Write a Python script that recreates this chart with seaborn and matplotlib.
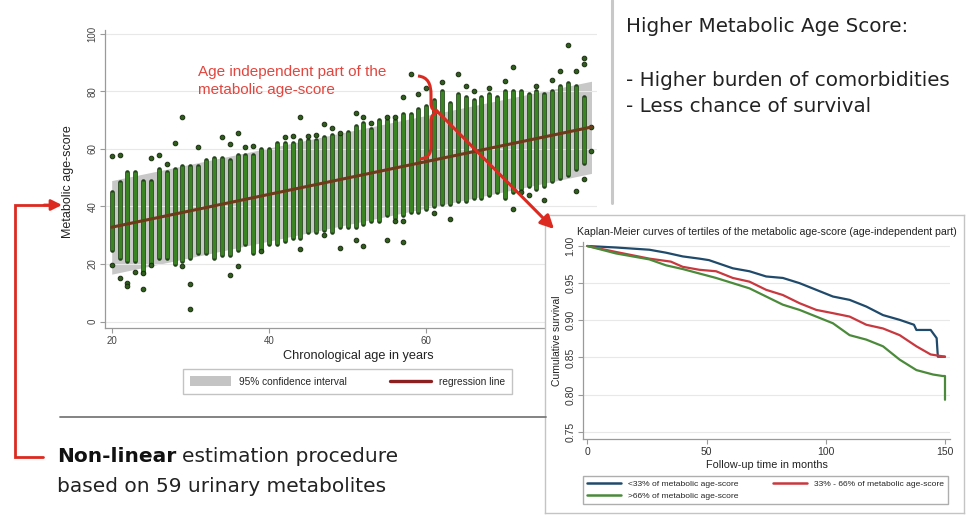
import numpy as np
import pandas as pd
import matplotlib
matplotlib.use("Agg")
import matplotlib.pyplot as plt
import seaborn as sns
from matplotlib.path import Path
from matplotlib.patches import PathPatch, Patch
from matplotlib.lines import Line2D

# ------------------------------------------
# data: metabolic age-score scatter
# ------------------------------------------
col_age = list(range(20, 81))
col_hi = [45, 48.6, 52, 52, 49, 49, 53, 52, 53, 54,
          54, 54, 56, 57, 57, 56, 58, 58, 58, 60,
          60, 62, 62, 62, 63, 63, 63, 64, 65, 65,
          66, 68, 69, 67, 70, 70, 70, 72, 72, 74,
          75, 77, 80, 76, 79, 78, 77, 78, 79, 78,
          80, 80, 80, 79, 80, 79, 80, 82, 83, 82,
          78]
col_lo = [25, 22, 21, 21, 17, 20, 22, 22, 20, 21,
          22, 24, 24, 22, 23, 23, 25, 27, 24, 25,
          27, 27, 28, 29, 29, 31, 31, 32, 31, 33,
          33, 33, 34, 35, 35, 37, 36, 37, 38, 38,
          39, 40, 41, 41, 42, 42, 43, 43, 44, 45,
          43, 45, 46, 47, 46, 47, 49, 50, 51, 53,
          55]
out_age = [20, 20, 21, 21, 22, 22, 23, 24, 24, 25, 25, 26, 27, 28, 29, 29, 30, 30,
           31, 34, 35, 36, 35, 36, 37, 38, 39, 42, 43, 44, 45, 44, 46, 47, 48, 49,
           47, 49, 51, 52, 51, 52, 53, 55, 57, 57, 58, 59, 55, 56, 56, 57, 61, 62,
           63, 64, 71, 70, 71, 75, 77, 78, 79, 80, 80, 79, 80, 81, 81, 74, 76, 66,
           68, 72, 73, 60, 65]
out_score = [57.5, 19.8, 57.8, 15.0, 13.5, 12.5, 17.4, 16.9, 11.5, 19.8, 57.0, 58.0,
             54.7, 62.0, 71.0, 19.2, 13.1, 4.3, 60.8, 64.0, 61.6, 65.7, 16.3, 19.2,
             60.8, 61.0, 24.4, 64.0, 64.5, 71.0, 64.5, 25.2, 64.8, 68.6, 67.4, 65.7,
             30.2, 25.6, 28.5, 26.2, 72.4, 71.0, 69.0, 28.5, 27.7, 77.9, 86.0, 79.0,
             71.0, 71.0, 35.0, 35.0, 37.8, 83.4, 35.5, 86.0, 88.4, 83.7, 39.0, 42.4,
             87.2, 96.2, 87.2, 91.5, 89.5, 45.3, 49.4, 59.3, 67.6, 82.0, 84.0, 80.0,
             81.0, 45.0, 44.0, 81.0, 82.0]
reg_age = [20, 81]
reg_fit = [32.8, 67.6]
band_lo = [16.5, 51.5]
band_hi = [49.0, 83.5]

# ------------------------------------------
# data: Kaplan-Meier curves per tertile
# ------------------------------------------
blue_t = [0, 12, 26, 33, 40, 47, 51, 61, 68, 75, 82, 89, 96, 103, 110, 117, 124,
          131, 137, 138, 144, 146.5, 147, 150]
blue_s = [1.0, 0.998, 0.995, 0.991, 0.986, 0.983, 0.981, 0.970, 0.966, 0.959, 0.957,
          0.950, 0.941, 0.932, 0.9275, 0.9185, 0.907, 0.9006, 0.894, 0.887, 0.887,
          0.876, 0.851, 0.851]
red_t = [0, 12, 26, 35, 40, 47, 54, 61, 68, 75, 82, 89, 96, 103, 110, 117, 124,
         131, 138, 144, 150]
red_s = [1.0, 0.992, 0.983, 0.979, 0.972, 0.968, 0.966, 0.957, 0.952, 0.941, 0.934,
         0.923, 0.914, 0.9096, 0.905, 0.894, 0.889, 0.880, 0.865, 0.854, 0.851]
green_t = [0, 12, 19, 26, 33, 40, 47, 54, 61, 68, 75, 82, 89, 96, 103, 110, 117,
           124, 131, 138, 145, 149, 150, 150]
green_s = [1.0, 0.990, 0.986, 0.982, 0.974, 0.969, 0.963, 0.957, 0.950, 0.943,
           0.932, 0.921, 0.914, 0.905, 0.896, 0.880, 0.874, 0.865, 0.847, 0.833,
           0.827, 0.825, 0.825, 0.793]
km_labels = ["<33% of metabolic age-score", "33% - 66% of metabolic age-score",
             ">66% of metabolic age-score"]

# ------------------------------------------
# style / layout helpers (pixel based)
# ------------------------------------------
sns.set_style("white")
plt.rcParams['font.family'] = ['Liberation Sans', 'DejaVu Sans']

W, H = 968, 517
RED = '#dc2a20'
GREEN = '#3b8424'
DARK = '#22421a'
BIG = ['DejaVu Sans']


def box(left, top, right, bottom):
    return [left / W, 1 - bottom / H, (right - left) / W, (bottom - top) / H]


fig = plt.figure(figsize=(W / 100, H / 100), dpi=100)

# ------------------------------------------
# scatter panel
# ------------------------------------------
ax = fig.add_axes(box(105, 30, 597, 328))
ax.set_zorder(1)
ax.fill_between(reg_age, band_lo, band_hi, color='#c8c8c8', lw=0, zorder=0.5)
ax.vlines(col_age, col_lo, col_hi, color=DARK, lw=3.4, capstyle='round', zorder=2)
ax.vlines(col_age, col_lo, col_hi, color=GREEN, lw=2.3, zorder=2.1)
sns.scatterplot(x=out_age, y=out_score, ax=ax, s=11, color='#2f5e1d',
                edgecolor='#1a2e10', linewidth=0.7, zorder=3, legend=False)
sns.lineplot(x=reg_age, y=reg_fit, ax=ax, color='#6e3a1a', lw=2.2, zorder=4)

ax.set_xlim(19.15, 81.7)
ax.set_ylim(-2.2, 101.3)
ax.set_xticks([20, 40, 60, 80])
ax.set_yticks([0, 20, 40, 60, 80, 100])
ax.yaxis.grid(True, color='#e8e8e8', lw=0.8)
ax.set_axisbelow(True)
for s in ['top', 'right']:
    ax.spines[s].set_visible(False)
for s in ['left', 'bottom']:
    ax.spines[s].set_color('#9a9a9a')
    ax.spines[s].set_linewidth(0.9)
ax.tick_params(axis='both', length=3.5, width=0.8, color='#9a9a9a',
               labelsize=7, labelcolor='#444444', pad=2, bottom=True, left=True)
ax.tick_params(axis='y', labelrotation=90)
for lab in ax.get_yticklabels():
    lab.set_va('center')
ax.set_xlabel("Chronological age in years", fontsize=9.2, color='#222222')
ax.set_ylabel("Metabolic age-score", fontsize=9, color='#222222')
ax.xaxis.set_label_coords(0.514, -0.075)
ax.yaxis.set_label_coords(-0.062, 0.49)

sc_handles = [Patch(facecolor='#c4c4c4', edgecolor='none'),
              Line2D([], [], color='#8c1f1f', lw=2.4)]
fig.legend(sc_handles, ["95% confidence interval", "regression line"],
           loc='center', bbox_to_anchor=(183 / W, 1 - 398 / H, 329 / W, 33 / H),
           mode='expand', ncol=2, fontsize=7.3, frameon=True, fancybox=False,
           edgecolor='#b4b4b4', handlelength=4.0, handleheight=1.1,
           borderaxespad=0, borderpad=0.7)

# ------------------------------------------
# Kaplan-Meier panel
# ------------------------------------------
bg = fig.add_axes(box(545, 215, 964, 513))
bg.set_zorder(3)
bg.set_xticks([])
bg.set_yticks([])
for s in bg.spines.values():
    s.set_color('#c4c4c4')
    s.set_linewidth(1.0)

km = fig.add_axes(box(583.3, 242.3, 950, 439.3))
km.set_zorder(4)
km.patch.set_alpha(0)
sns.lineplot(x=blue_t, y=blue_s, ax=km, color='#1f4a6b', lw=1.6,
             sort=False, estimator=None)
sns.lineplot(x=red_t, y=red_s, ax=km, color='#c8383f', lw=1.6,
             sort=False, estimator=None)
sns.lineplot(x=green_t, y=green_s, ax=km, color='#4b8a3a', lw=1.6,
             sort=False, estimator=None)
km.set_xlim(-1.7, 152.1)
km.set_ylim(0.7398, 1.005)
km.set_xticks([0, 50, 100, 150])
km.set_yticks([0.75, 0.80, 0.85, 0.90, 0.95, 1.00])
km.set_yticklabels(["0.75", "0.80", "0.85", "0.90", "0.95", "1.00"])
km.yaxis.grid(True, color='#e8e8e8', lw=0.8)
km.set_axisbelow(True)
for s in ['top', 'right']:
    km.spines[s].set_visible(False)
for s in ['left', 'bottom']:
    km.spines[s].set_color('#9a9a9a')
    km.spines[s].set_linewidth(0.9)
km.tick_params(axis='both', length=3.5, width=0.8, color='#9a9a9a',
               labelsize=7.5, labelcolor='#333333', pad=2, bottom=True, left=True)
km.tick_params(axis='y', labelrotation=90)
for lab in km.get_yticklabels():
    lab.set_va('center')
km.set_xlabel("Follow-up time in months", fontsize=7.8, color='#222222')
km.set_ylabel("Cumulative survival", fontsize=7.5, color='#222222')
km.xaxis.set_label_coords(0.5, -0.105)
km.yaxis.set_label_coords(-0.058, 0.5)

km_handles = [Line2D([], [], color='#1f4a6b', lw=1.8),
              Line2D([], [], color='#4b8a3a', lw=1.8),
              Line2D([], [], color='#c8383f', lw=1.8)]
fig.legend(km_handles, [km_labels[0], km_labels[2], km_labels[1]],
           loc='center', bbox_to_anchor=(583 / W, 1 - 508 / H, 365 / W, 36 / H),
           mode='expand', ncol=2, fontsize=6.1, frameon=True, fancybox=False,
           edgecolor='#9a9a9a', handlelength=4.0, borderaxespad=0,
           borderpad=0.5, labelspacing=0.45)

# ------------------------------------------
# overlay: texts, separators, arrows
# ------------------------------------------
ov = fig.add_axes([0, 0, 1, 1])
ov.set_zorder(5)
ov.patch.set_alpha(0)
ov.set_xlim(0, W)
ov.set_ylim(H, 0)
ov.axis('off')

ov.plot([612, 612], [0, 203], color='#c8c8c8', lw=2.2)
ov.plot([60, 546], [417, 417], color='#7a7a7a', lw=1.3)

ov.text(767, 232, "Kaplan-Meier curves of tertiles of the metabolic age-score "
        "(age-independent part)", fontsize=7.6, color='#222222',
        ha='center', va='center')

ov.text(626, 26, "Higher Metabolic Age Score:", fontsize=14.3, color='#222222',
        va='center', family=BIG)
ov.text(626, 80, "- Higher burden of comorbidities", fontsize=14.3,
        color='#222222', va='center', family=BIG)
ov.text(626, 106, "- Less chance of survival", fontsize=14.3, color='#222222',
        va='center', family=BIG)

ov.text(198, 72, "Age independent part of the", fontsize=11.0, color='#e2463e',
        va='center')
ov.text(198, 90, "metabolic age-score", fontsize=11.0, color='#e2463e', va='center')

t1 = ov.text(57, 462, "Non-linear", fontsize=14.5, fontweight='bold',
             color='#111111', va='baseline', family=BIG)
ov.annotate("estimation procedure", xy=(1, 0), xycoords=t1, xytext=(4.5, 0),
            textcoords='offset points', fontsize=14.5, color='#222222',
            ha='left', va='bottom', family=BIG)
ov.text(57, 492, "based on 59 urinary metabolites", fontsize=14.5,
        color='#222222', va='baseline', family=BIG)

# curly brace next to the regression line
brace = Path([(418, 76), (428, 77), (431, 84), (431, 95),
              (431, 103),
              (431, 108), (433, 111), (438, 112),
              (433, 113), (431, 116), (431, 122),
              (431, 146),
              (431, 154), (428, 158), (420, 159)],
             [Path.MOVETO, Path.CURVE4, Path.CURVE4, Path.CURVE4,
              Path.LINETO,
              Path.CURVE4, Path.CURVE4, Path.CURVE4,
              Path.CURVE4, Path.CURVE4, Path.CURVE4,
              Path.LINETO,
              Path.CURVE4, Path.CURVE4, Path.CURVE4])
ov.add_patch(PathPatch(brace, facecolor='none', edgecolor=RED, lw=2.2))

ov.annotate("", xy=(554, 229), xytext=(436, 110),
            arrowprops=dict(arrowstyle='-|>', color=RED, lw=2.2,
                            mutation_scale=20, shrinkA=0, shrinkB=0))

# bracket arrow on the left
ov.plot([43, 15, 15, 50], [457, 457, 205, 205], color=RED, lw=2.0,
        solid_joinstyle='miter')
ov.annotate("", xy=(62, 205), xytext=(44, 205),
            arrowprops=dict(arrowstyle='-|>', color=RED, lw=2.0,
                            mutation_scale=16, shrinkA=0, shrinkB=0))

fig.savefig("out.png", dpi=100)
